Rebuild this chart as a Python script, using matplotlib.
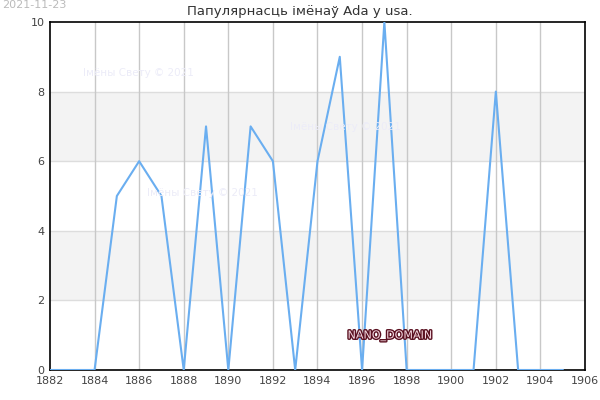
import matplotlib
matplotlib.use("Agg")
import matplotlib.pyplot as plt
import matplotlib.patheffects as pe

years = list(range(1882, 1906))
counts = [0, 0, 0, 5, 6, 5, 0, 7, 0, 7, 6, 0, 6, 9, 0, 10, 0, 0, 0, 0, 8, 0, 0, 0]
xticks = list(range(1882, 1907, 2))
yticks = [0, 2, 4, 6, 8, 10]
title = "Папулярнасць імёнаў Ada у usa."

fig = plt.figure(figsize=(6, 4), dpi=100)
ax = fig.add_axes([0.0833, 0.075, 0.8917, 0.87])
ax.set_xlim(1882, 1906)
ax.set_ylim(0, 10)
for lo in (2, 6):
    ax.axhspan(lo, lo + 2, color="#f3f3f3", zorder=0, lw=0)
for y in yticks[1:-1]:
    ax.axhline(y, color="#dddddd", lw=1, zorder=1)
for x in xticks[1:-1]:
    ax.axvline(x, color="#c8c8c8", lw=1, zorder=1)
ax.plot(years, counts, color="#6aaef0", lw=1.5, zorder=3)
ax.set_xticks(xticks)
ax.set_yticks(yticks)
ax.tick_params(labelsize=8, colors="#444444", length=0, pad=4)
for s in ax.spines.values():
    s.set_color("black")
    s.set_linewidth(1.2)
fig.text(0.5, 1 - 11 / 400, title, fontsize=9.5, color="#333333", ha="center", va="center")

wm = "Імёны Свету © 2021"
for (fx, fy) in [(83, 73), (290, 127), (147, 193)]:
    fig.text(fx / 600, 1 - fy / 400, wm, fontsize=7.5, color="#ececf8", va="center", ha="left", zorder=2)
fig.text(390 / 600, 1 - 336 / 400, "NANO_DOMAIN", fontsize=8, color="#f4d8e0", ha="center", va="center",
         path_effects=[pe.withStroke(linewidth=2, foreground="#5a1020")])
fig.text(2 / 600, 1 - 5 / 400, "2021-11-23", fontsize=8, color="#bbbbbb", ha="left", va="center")
fig.savefig("out.png")
